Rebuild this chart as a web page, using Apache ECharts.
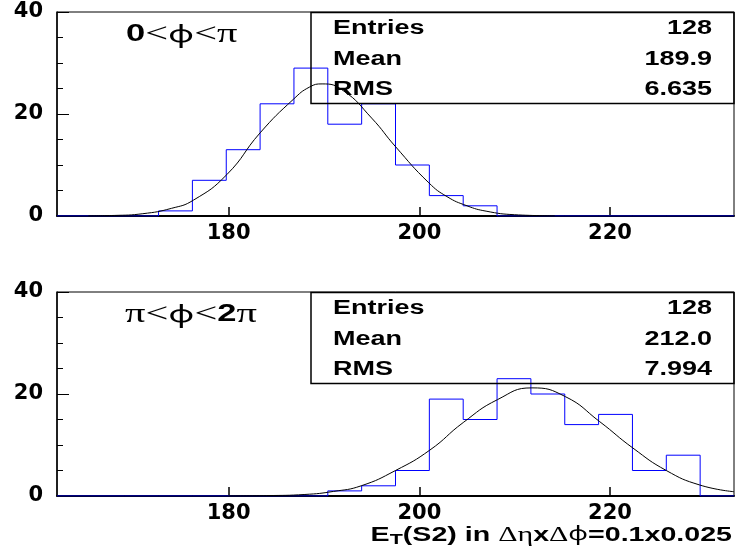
<!DOCTYPE html>
<html>
<head>
<meta charset="utf-8">
<script src="https://cdn.jsdelivr.net/npm/echarts@6.0.0/dist/echarts.min.js"></script>
<style>
  html, body { margin: 0; padding: 0; background: #fff; }
  #main { width: 736px; height: 553px; }
</style>
</head>
<body>
<div id="main"></div>
<script>
// bin edges (20 bins, 162 -> 233)
const binEdges = [162, 165.55, 169.1, 172.65, 176.2, 179.75, 183.3, 186.85, 190.4, 193.95,
  197.5, 201.05, 204.6, 208.15, 211.7, 215.25, 218.8, 222.35, 225.9, 229.45, 233];

const topCounts = [0, 0, 0, 1, 7, 13, 22, 29, 18, 22, 10, 4, 2, 0, 0, 0, 0, 0, 0, 0];
const bottomCounts = [0, 0, 0, 0, 0, 0, 0, 0, 1, 2, 5, 19, 15, 23, 20, 14, 16, 5, 8, 0];

// gaussian fit curves
const topFitX = [165.3, 168, 171, 174, 176.3, 179.8, 183.3, 186.8, 188.5, 189.8, 192, 195, 197.5, 201, 202.9, 205, 207, 210, 214.2];
const topFitY = [0.03, 0.11, 0.45, 1.5, 3.1, 8.1, 16.3, 22.9, 25.3, 25.9, 24.6, 19.2, 13.6, 6.5, 3.8, 2.0, 0.95, 0.25, 0.03];
const bottomFitX = [180, 184, 188, 191, 193.9, 197.5, 201.1, 204.6, 208.2, 211.8, 215.3, 218.9, 222.4, 225.9, 229.4, 233];
const bottomFitY = [0.02, 0.08, 0.3, 0.9, 2.0, 5.0, 9.0, 14.4, 18.9, 21.2, 19.5, 14.6, 9.4, 5.0, 2.16, 0.84];

const xTicks = [180, 200, 220];
const statNames = ['Entries', 'Mean', 'RMS'];
const topStats = ['128', '189.9', '6.635'];
const bottomStats = ['128', '212.0', '7.994'];

const chart = echarts.init(document.getElementById('main'));

const stepData = counts => counts.map((c, i) => [binEdges[i], c]).concat([[binEdges[counts.length], counts[counts.length - 1]]]);
const fitData = (xs, ys) => xs.map((x, i) => [x, ys[i]]);

const labelFont = { fontFamily: 'DejaVu Sans', fontWeight: 'bold', fontSize: 21, color: '#000' };
const SX = 1.35; // text in the picture is stretched sideways

function xAxisFor(gridIndex) {
  return {
    type: 'value', gridIndex, min: 162, max: 233,
    axisLine: { onZero: false, lineStyle: { color: '#000', width: 2 } },
    axisTick: { inside: true, length: 9, customValues: xTicks, lineStyle: { color: '#000', width: 1.5 } },
    axisLabel: Object.assign({ customValues: xTicks, margin: 7 }, labelFont),
    splitLine: { show: false }
  };
}
function yAxisFor(gridIndex) {
  return {
    type: 'value', gridIndex, min: 0, max: 40, interval: 20,
    axisLine: { show: true, lineStyle: { color: '#000', width: 1.5 } },
    axisTick: { inside: true, length: 12, lineStyle: { color: '#000', width: 1 } },
    minorTick: { show: true, splitNumber: 4, length: 6, lineStyle: { color: '#000', width: 1 } },
    axisLabel: Object.assign({ margin: 14 }, labelFont),
    splitLine: { show: false }
  };
}

function statBox(y0, values) {
  const items = [{
    type: 'rect', z: 10,
    shape: { x: 311, y: y0 + 12.5, width: 423, height: 91 },
    style: { fill: 'none', stroke: '#000', lineWidth: 1.5 }
  }];
  const rows = [28.5, 59.5, 89.5];
  statNames.forEach((name, i) => {
    items.push({
      type: 'text', z: 10, x: 333, y: y0 + rows[i], scaleX: SX,
      style: { text: name, fontFamily: 'Liberation Sans', fontWeight: 'bold', fontSize: 20, fill: '#000', align: 'left', verticalAlign: 'middle' }
    });
    items.push({
      type: 'text', z: 10, x: 712, y: y0 + rows[i], scaleX: SX,
      style: { text: values[i], fontFamily: 'Liberation Sans', fontWeight: 'bold', fontSize: 20, fill: '#000', align: 'right', verticalAlign: 'middle' }
    });
  });
  return items;
}

const richPhi = {
  b: { fontFamily: 'Liberation Sans', fontWeight: 'bold', fontSize: 23, fill: '#000' },
  s: { fontFamily: 'Liberation Serif', fontSize: 27, fill: '#000' },
  f: { fontFamily: 'Noto Sans', fontWeight: 'normal', fontSize: 24, fill: '#000' }
};

chart.setOption({
  animation: false,
  grid: [
    { left: 57, top: 12, width: 677, height: 204, show: true, borderColor: '#000', borderWidth: 1 },
    { left: 57, top: 292, width: 677, height: 204, show: true, borderColor: '#000', borderWidth: 1 }
  ],
  xAxis: [xAxisFor(0), xAxisFor(1)],
  yAxis: [yAxisFor(0), yAxisFor(1)],
  series: [
    { type: 'line', xAxisIndex: 0, yAxisIndex: 0, step: 'end', data: stepData(topCounts), symbol: 'none', lineStyle: { color: '#0000ff', width: 1 } },
    { type: 'line', xAxisIndex: 0, yAxisIndex: 0, smooth: true, data: fitData(topFitX, topFitY), symbol: 'none', lineStyle: { color: '#000', width: 1 } },
    { type: 'line', xAxisIndex: 1, yAxisIndex: 1, step: 'end', data: stepData(bottomCounts), symbol: 'none', lineStyle: { color: '#0000ff', width: 1 } },
    { type: 'line', xAxisIndex: 1, yAxisIndex: 1, smooth: true, data: fitData(bottomFitX, bottomFitY), symbol: 'none', lineStyle: { color: '#000', width: 1 } }
  ],
  graphic: [
    ...statBox(0, topStats),
    ...statBox(280, bottomStats),
    { type: 'text', z: 10, x: 126, y: 35, scaleX: 1.5,
      style: { text: '{b|0}{s|<}{f|ϕ}{s|<π}', rich: richPhi, align: 'left', verticalAlign: 'middle' } },
    { type: 'text', z: 10, x: 125, y: 315, scaleX: 1.5,
      style: { text: '{s|π<}{f|ϕ}{s|<}{b|2}{s|π}', rich: richPhi, align: 'left', verticalAlign: 'middle' } },
    { type: 'text', z: 10, x: 732, y: 535, scaleX: 1.43,
      style: {
        text: '{b|E}{t|T}{b|(S2) in }{s|Δη}{b|x}{s|Δ}{f|ϕ}{b|=0.1x0.025}',
        align: 'right', verticalAlign: 'middle',
        rich: {
          b: { fontFamily: 'Liberation Sans', fontWeight: 'bold', fontSize: 20, fill: '#000', lineHeight: 24 },
          s: { fontFamily: 'Liberation Serif', fontSize: 21, fill: '#000', lineHeight: 24 },
          f: { fontFamily: 'Noto Sans', fontWeight: 'normal', fontSize: 19, fill: '#000', lineHeight: 24 },
          t: { fontFamily: 'Liberation Sans', fontWeight: 'bold', fontSize: 15, fill: '#000', lineHeight: 8, verticalAlign: 'bottom' }
        }
      } }
  ]
});
</script>
</body>
</html>
